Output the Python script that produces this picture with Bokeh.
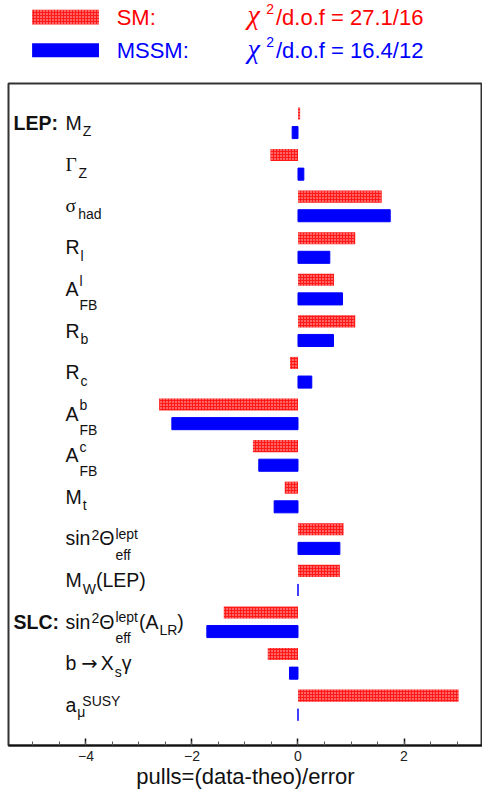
import numpy as np
from bokeh.plotting import figure
from bokeh.models import Range1d, ColumnDataSource, FixedTicker
from bokeh.layouts import column
from bokeh.core.properties import value
from bokeh.embed import file_html
from bokeh.resources import INLINE

# ---------------- data ----------------
observables = ["M_Z", "Γ_Z", "σ_had", "R_l", "A_FB^l", "R_b", "R_c", "A_FB^b",
               "A_FB^c", "M_t", "sin²Θ_eff^lept", "M_W(LEP)",
               "sin²Θ_eff^lept(A_LR)", "b → X_sγ", "a_μ^SUSY"]
sm_pulls = [0.04, -0.52, 1.58, 1.08, 0.68, 1.08, -0.15, -2.62, -0.85, -0.25,
            0.86, 0.79, -1.40, -0.57, 3.03]
mssm_pulls = [-0.11, 0.11, 1.74, 0.60, 0.84, 0.67, 0.26, -2.38, -0.74, -0.45,
              0.79, 0.0, -1.72, -0.16, 0.0]
group_labels = ["LEP:", "SLC:"]
group_rows = [0, 12]
series_names = ["SM:", "MSSM:"]
chi2_values = ["27.1/16", "16.4/12"]
major_ticks = [-4, -2, 0, 2]
tick_labels = ["−4", "−2", "0", "2"]
x_title = "pulls=(data-theo)/error"

# ---------------- style ----------------
RED = "#ff0000"
BLUE = "#0000ff"
SM_FILL = "#ff1a1a"
SANS = "Liberation Sans"
SERIF = "Liberation Serif"
ARROWF = "DejaVu Sans"
F_MAIN, F_SMALL = 19.5, 14
FIX = 0.38            # alphabetic-baseline correction (fraction of font size)
BASE = 7
LABEL_X = -4.387
GROUP_X = -5.368
W_TOTAL = 482
HATCH = dict(hatch_pattern="dot", hatch_color="white", hatch_scale=3,
             hatch_weight=1, hatch_alpha=0.8)

# rich-text rendering of the observable names (rendering spec, not data)
SA = (-10.5, 14)   # stacked sup/sub offsets after A
ST = (-7, 14)      # stacked sup/sub offsets after Theta
RICH = [
    [("n", "M"), ("sub", "Z")],
    [("g", "Γ"), ("sub", "Z")],
    [("g", "σ"), ("sub", "had")],
    [("n", "R"), ("sub", "l")],
    [("n", "A"), ("stack", "l", "FB") + SA],
    [("n", "R"), ("sub", "b")],
    [("n", "R"), ("sub", "c")],
    [("n", "A"), ("stack", "b", "FB") + SA],
    [("n", "A"), ("stack", "c", "FB") + SA],
    [("n", "M"), ("sub", "t")],
    [("n", "sin"), ("sup", "2"), ("n", "Θ"), ("stack", "lept", "eff") + ST],
    [("n", "M"), ("sub", "W"), ("n", "(LEP)")],
    [("n", "sin"), ("sup", "2"), ("n", "Θ"), ("stack", "lept", "eff") + ST,
     ("n", "(A"), ("sub", "LR"), ("n", ")")],
    [("n", "b"), ("sp", 5), ("d", "→"), ("sp", 3), ("n", "X"), ("sub", "s"),
     ("n", "γ")],
    [("n", "a"), ("ss", "μ", "SUSY")],
]

W = {'M': .833, 'Z': .611, 'R': .722, 'A': .667, 'b': .556, 'c': .5, 'l': .222,
     't': .278, 's': .5, 'i': .222, 'n': .556, 'W': .944, '(': .333, ')': .333,
     'L': .556, 'E': .667, 'P': .667, 'X': .667, 'a': .556, 'S': .667, 'U': .722,
     'Y': .667, 'F': .611, 'B': .667, 'h': .556, 'd': .556, 'e': .556, 'p': .556,
     'f': .278, '2': .556, ' ': .278, '→': .838, 'Γ': .62, 'σ': .6, 'Θ': .78,
     'γ': .5, 'μ': .58}


def tw(s, size):
    return sum(W.get(c, .556) for c in s) * size


def layout(parts):
    out = []
    x = 0.0
    for p in parts:
        k = p[0]
        if k in ("n", "g", "d"):
            out.append((p[1], x, BASE, k))
            x += tw(p[1], F_MAIN)
        elif k == "sp":
            x += p[1]
        elif k == "sub":
            out.append((p[1], x + 1, BASE + 6.5, "s"))
            x += tw(p[1], F_SMALL) + 1
        elif k == "sup":
            out.append((p[1], x + 1, BASE - 5.5, "s"))
            x += tw(p[1], F_SMALL) + 1
        elif k == "stack":
            out.append((p[1], x + 1, BASE + p[3], "s"))
            out.append((p[2], x + 1, BASE + p[4], "s"))
            x += max(tw(p[1], F_SMALL), tw(p[2], F_SMALL)) + 2
        elif k == "ss":
            out.append((p[1], x + 1, BASE + 5.5, "s"))
            out.append((p[2], x + 6, BASE - 6, "s"))
            x += tw(p[2], F_SMALL) + 7
    return out


n = len(observables)
row_y = [-i for i in range(n)]
OFF = 0.23
BAR_H = 0.29

# ---------------- main figure ----------------
p = figure(title=None, width=W_TOTAL, height=713,
           x_range=Range1d(-5.462, 3.481), y_range=Range1d(-14.97, 0.95),
           output_backend="svg", toolbar_location=None, y_axis_location=None,
           min_border_left=8, min_border_right=0, min_border_top=1,
           min_border_bottom=50)
p.grid.visible = False
p.outline_line_color = "#333333"
p.outline_line_width = 2
p.background_fill_color = "white"
p.border_fill_color = "white"

sm_src = ColumnDataSource(dict(y=[r + OFF for r in row_y], v=sm_pulls))
ms_src = ColumnDataSource(dict(y=[r - OFF for r in row_y], v=mssm_pulls))
p.hbar(y="y", left=0, right="v", height=BAR_H, source=sm_src,
       fill_color=SM_FILL, line_color=None, **HATCH)
p.hbar(y="y", left=0, right="v", height=BAR_H, source=ms_src,
       fill_color=BLUE, line_color=BLUE, line_width=1)

# observable labels
FONTS = {"n": (SANS, F_MAIN), "g": (SERIF, F_MAIN), "d": (ARROWF, F_MAIN),
         "s": (SANS, F_SMALL)}
groups = {k: ([], [], [], []) for k in FONTS}
for i, parts in enumerate(RICH):
    for (t, dx, dy, k) in layout(parts):
        g = groups[k]
        g[0].append(row_y[i]); g[1].append(t); g[2].append(dx)
        g[3].append(dy - FIX * FONTS[k][1])
for k, (ys, ts, dxs, dys) in groups.items():
    src = ColumnDataSource(dict(x=[LABEL_X] * len(ys), y=ys, text=ts,
                                xo=dxs, yo=dys))
    p.text(x="x", y="y", text="text", x_offset="xo", y_offset="yo", source=src,
           text_font=value(FONTS[k][0]), text_font_size=f"{FONTS[k][1]}px",
           text_baseline="alphabetic", text_align="left", text_color="#111111")

gsrc = ColumnDataSource(dict(x=[GROUP_X] * len(group_rows),
                             y=[row_y[r] for r in group_rows], text=group_labels))
p.text(x="x", y="y", text="text", y_offset=BASE - FIX * F_MAIN, source=gsrc,
       text_font=value(SANS), text_font_size=f"{F_MAIN}px",
       text_font_style="bold", text_baseline="alphabetic", text_color="#111111")

# x axis
ax = p.xaxis[0]
ax.ticker = FixedTicker(ticks=major_ticks,
                        minor_ticks=list(np.arange(-5.5, 3.51, 0.5)))
ax.major_label_overrides = {t: l for t, l in zip(major_ticks, tick_labels)}
ax.major_tick_in = 7
ax.major_tick_out = 0
ax.minor_tick_in = 4
ax.minor_tick_out = 0
ax.major_tick_line_color = "#111111"
ax.minor_tick_line_color = "#555555"
ax.major_tick_line_width = 1.5
ax.axis_line_color = "#111111"
ax.axis_line_width = 2
ax.major_label_text_font = SANS
ax.major_label_text_font_size = "14px"
ax.major_label_text_color = "#222222"
ax.major_label_standoff = 5
ax.axis_label = x_title
ax.axis_label_text_font = SANS
ax.axis_label_text_font_size = "22px"
ax.axis_label_text_font_style = "normal"
ax.axis_label_text_color = "#111111"
ax.axis_label_standoff = 0

# ---------------- legend figure ----------------
lg = figure(title=None, width=W_TOTAL, height=82, x_range=Range1d(0, W_TOTAL),
            y_range=Range1d(82, 0), output_backend="svg", toolbar_location=None,
            x_axis_location=None, y_axis_location=None, min_border=0,
            outline_line_color=None)
lg.grid.visible = False
base_y = [25, 58.3]
colors = [RED, BLUE]
lg.quad(left=[24], right=[92], top=[9.3], bottom=[24],
        fill_color=SM_FILL, line_color=None, **HATCH)
lg.quad(left=[24], right=[92], top=[42.7], bottom=[56.7],
        fill_color=BLUE, line_color=None)
for j in range(2):
    b = base_y[j]
    lg.text(x=[110], y=[b - FIX * 22], text=[series_names[j]], text_color=colors[j],
            text_font=value(SANS), text_font_size="22px", text_baseline="alphabetic")
    lg.text(x=[243], y=[b - FIX * 28], text=["χ"], text_color=colors[j],
            text_font=value(SERIF), text_font_style="italic", text_font_size="28px",
            text_baseline="alphabetic")
    lg.text(x=[262], y=[b - 11.5 - FIX * 14], text=["2"], text_color=colors[j],
            text_font=value(SANS), text_font_size="14px", text_baseline="alphabetic")
    lg.text(x=[272], y=[b - FIX * 22], text=["/d.o.f = " + chi2_values[j]],
            text_color=colors[j], text_font=value(SANS), text_font_size="22px",
            text_baseline="alphabetic")

layout_all = column(lg, p)
open("out.html", "w").write(file_html(layout_all, INLINE))
